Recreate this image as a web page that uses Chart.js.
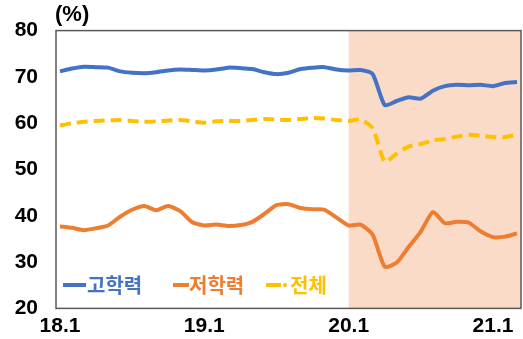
<!DOCTYPE html>
<html>
<head>
<meta charset="utf-8">
<script src="https://cdn.jsdelivr.net/npm/chart.js@4"></script>
<style>
html,body{margin:0;padding:0;background:#fff;}
#wrap{width:523px;height:339px;position:relative;}
</style>
</head>
<body>
<div id="wrap"><canvas id="c" width="523" height="339"></canvas></div>
<script>
// months 18.1 .. 21.3
const months = [
 '18.1','18.2','18.3','18.4','18.5','18.6','18.7','18.8','18.9','18.10','18.11','18.12',
 '19.1','19.2','19.3','19.4','19.5','19.6','19.7','19.8','19.9','19.10','19.11','19.12',
 '20.1','20.2','20.3','20.4','20.5','20.6','20.7','20.8','20.9','20.10','20.11','20.12',
 '21.1','21.2','21.3'
];
const highEdu = [
 71.2,71.8,72.2,72.1,72.0,71.2,70.9,70.8,71.0,71.4,71.6,71.5,
 71.4,71.6,72.0,71.9,71.7,71.0,70.6,70.9,71.7,72.0,72.1,71.6,
 71.4,71.5,70.6,63.9,64.8,65.6,65.3,67.0,68.0,68.3,68.2,68.3,
 68.0,68.7,68.9
];
const lowEdu = [
 37.7,37.4,36.9,37.3,37.9,39.8,41.3,42.1,41.2,42.1,41.0,38.6,
 37.9,38.1,37.8,38.0,38.7,40.4,42.3,42.5,41.7,41.4,41.3,39.6,
 37.9,38.1,35.9,29.0,29.9,33.3,36.6,40.8,38.4,38.7,38.5,36.6,
 35.4,35.5,36.2
];
const total = [
 59.5,60.0,60.3,60.5,60.6,60.7,60.5,60.3,60.4,60.6,60.7,60.4,
 60.1,60.4,60.5,60.5,60.7,60.9,60.8,60.7,60.9,61.1,61.0,60.7,
 60.5,60.8,58.9,51.7,53.4,55.0,55.5,56.3,56.6,57.1,57.5,57.3,
 57.0,57.0,57.6
];
const seriesNames = ['고학력','저학력','전체'];
const xTickLabels = ['18.1','19.1','20.1','21.1'];
const yTicks = [20,30,40,50,60,70,80];
const shadeFrom = '20.1';
const unitLabel = '(%)';

const colors = ['#4472C4','#ED7D31','#FFC000'];
const numFont = "'Liberation Sans', Arial, sans-serif";
const korFont = "'Noto Sans CJK KR', 'Noto Sans', sans-serif";

const toXY = arr => arr.map((v,i)=>({x:i,y:v}));

const decor = {
  id:'decor',
  beforeDatasetsDraw(chart){
    const {ctx, chartArea:a, scales:{x}} = chart;
    const sx = x.getPixelForValue(months.indexOf(shadeFrom));
    ctx.save();
    ctx.fillStyle = '#FADBC7';
    ctx.fillRect(sx, a.top, a.right - sx, a.bottom - a.top);
    ctx.restore();
  },
  afterDatasetsDraw(chart){
    const {ctx, chartArea:a} = chart;
    ctx.save();
    ctx.strokeStyle = '#595959';
    ctx.lineWidth = 1.5;
    ctx.strokeRect(a.left, a.top, a.right - a.left, a.bottom - a.top);
    // unit label
    ctx.fillStyle = '#000';
    ctx.font = "bold 22px " + numFont;
    ctx.textBaseline = 'middle';
    ctx.textAlign = 'left';
    ctx.fillText(unitLabel, a.left - 1, 15);
    // legend
    const ly = 285;
    const items = [
      {lx0:63, lx1:86, tx:87},
      {lx0:173, lx1:189, tx:189},
      {lx0:266, lx1:281, tx:290, dot:285}
    ];
    ctx.font = "bold 20px " + korFont;
    items.forEach((it,i)=>{
      ctx.strokeStyle = colors[i];
      ctx.lineWidth = 4;
      ctx.beginPath();
      ctx.moveTo(it.lx0, ly);
      ctx.lineTo(it.lx1, ly);
      ctx.stroke();
      if (it.dot){
        ctx.fillStyle = colors[i];
        ctx.beginPath();
        ctx.arc(it.dot, ly, 2, 0, Math.PI*2);
        ctx.fill();
      }
      ctx.fillStyle = colors[i];
      ctx.fillText(seriesNames[i], it.tx, ly);
    });
    ctx.restore();
  }
};

new Chart(document.getElementById('c'), {
  type:'line',
  data:{
    datasets:[
      {label:seriesNames[0], data:toXY(highEdu), borderColor:colors[0], borderWidth:4, pointRadius:0, tension:0.2},
      {label:seriesNames[1], data:toXY(lowEdu), borderColor:colors[1], borderWidth:4, pointRadius:0, tension:0.2},
      {label:seriesNames[2], data:toXY(total), borderColor:colors[2], borderWidth:4, pointRadius:0, tension:0.2, borderDash:[11,6]}
    ]
  },
  options:{
    responsive:false,
    animation:false,
    events:[],
    layout:{padding:{top:28,right:2,left:0,bottom:0}},
    plugins:{legend:{display:false}, tooltip:{enabled:false}},
    scales:{
      x:{
        type:'linear',
        min:-0.33, max:38.33,
        grid:{display:false, drawTicks:false},
        border:{display:false},
        afterBuildTicks(s){ s.ticks = xTickLabels.map(l=>({value:months.indexOf(l)})); },
        afterFit(s){ s.height = 26; },
        ticks:{
          autoSkip:false, maxRotation:0, padding:5, color:'#000',
          font:{family:numFont, size:21, weight:'bold'},
          callback:(v)=>months[v]
        }
      },
      y:{
        min:20, max:80,
        grid:{display:false, drawTicks:false},
        border:{display:false},
        afterBuildTicks(s){ s.ticks = yTicks.map(v=>({value:v})); },
        afterFit(s){ s.width = 56; },
        ticks:{
          padding:18, color:'#000',
          font:{family:numFont, size:21, weight:'bold'}
        }
      }
    }
  },
  plugins:[decor]
});
</script>
</body>
</html>
